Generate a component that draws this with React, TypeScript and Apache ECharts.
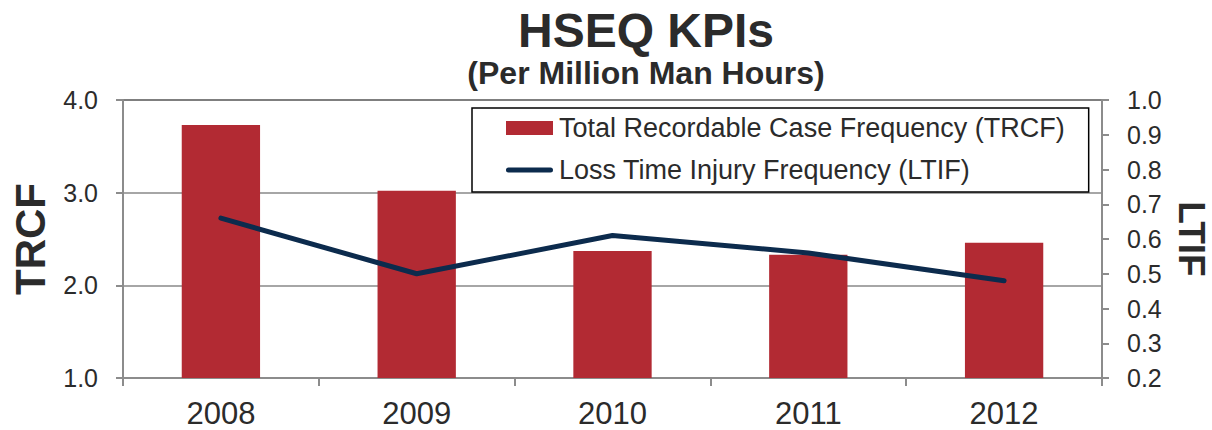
import React, { useEffect, useRef } from "react";
import * as echarts from "echarts";

const years = ["2008", "2009", "2010", "2011", "2012"];
const trcfValues = [3.73, 3.02, 2.37, 2.33, 2.46];
const ltifValues = [0.66, 0.5, 0.61, 0.56, 0.48];
const trcfName = "Total Recordable Case Frequency (TRCF)";
const ltifName = "Loss Time Injury Frequency (LTIF)";

const FONT = "'Liberation Sans', Arial, Helvetica, sans-serif";
const TEXT = "#2b2b2b";
const LINE_ICON =
  "path://M2.5,0 L44.5,0 A2.5,2.5 0 0 1 44.5,5 L2.5,5 A2.5,2.5 0 0 1 2.5,0 Z";

export default function App() {
  const ref = useRef<HTMLDivElement>(null);
  useEffect(() => {
    if (!ref.current) return;
    const chart = echarts.init(ref.current, undefined, { renderer: "svg" });
    chart.setOption({
      animation: false,
      backgroundColor: "#ffffff",
      textStyle: { fontFamily: FONT },
      title: {
        text: "HSEQ KPIs",
        subtext: "(Per Million Man Hours)",
        left: 641,
        textAlign: "center",
        top: 1,
        itemGap: 3,
        textStyle: { fontFamily: FONT, fontSize: 48, fontWeight: "bold", color: TEXT },
        subtextStyle: { fontFamily: FONT, fontSize: 32, fontWeight: "bold", color: TEXT },
      },
      legend: {
        orient: "vertical",
        left: 472,
        top: 108,
        padding: [5, 24, 7, 34],
        itemGap: 12,
        itemWidth: 47,
        itemHeight: 14,
        borderColor: "#000000",
        borderWidth: 1.5,
        backgroundColor: "#ffffff",
        textStyle: { fontFamily: FONT, fontSize: 27, color: TEXT, lineHeight: 30, padding: [0, 0, 0, 1] },
        data: [
          { name: trcfName, icon: "rect" },
          { name: ltifName, icon: LINE_ICON },
        ],
      },
      grid: {
        left: 123,
        right: 110,
        top: 100,
        bottom: 52,
        outerBoundsMode: "none",
        containLabel: false,
        show: true,
        borderColor: "#555555",
        borderWidth: 1.5,
        backgroundColor: "transparent",
      },
      xAxis: {
        type: "category",
        data: years,
        axisLine: { lineStyle: { color: "#8c8c8c", width: 2 } },
        axisTick: { show: true, length: 8, lineStyle: { color: "#8c8c8c", width: 2 } },
        axisLabel: { fontFamily: FONT, fontSize: 31, color: TEXT, margin: 20 },
      },
      yAxis: [
        {
          type: "value",
          min: 1,
          max: 4,
          interval: 1,
          name: "TRCF",
          nameLocation: "middle",
          nameRotate: 90,
          nameGap: 72,
          nameTextStyle: { fontFamily: FONT, fontSize: 42, fontWeight: "bold", color: TEXT },
          axisLine: { show: true, lineStyle: { color: "#8c8c8c", width: 2 } },
          axisTick: { show: true, length: 7, lineStyle: { color: "#8c8c8c", width: 2 } },
          axisLabel: {
            fontFamily: FONT,
            fontSize: 25,
            color: TEXT,
            margin: 25,
            formatter: (v: number) => v.toFixed(1),
          },
          splitLine: { show: true, showMaxLine: false, showMinLine: false, lineStyle: { color: "#a6a6a6", width: 2 } },
        },
        {
          type: "value",
          min: 0.2,
          max: 1.0,
          interval: 0.1,
          name: "LTIF",
          nameLocation: "middle",
          nameRotate: -90,
          nameGap: 69,
          nameTextStyle: { fontFamily: FONT, fontSize: 37, lineHeight: 30, fontWeight: "bold", color: TEXT },
          axisLine: { show: true, lineStyle: { color: "#8c8c8c", width: 2 } },
          axisTick: { show: true, length: 7, lineStyle: { color: "#8c8c8c", width: 2 } },
          axisLabel: {
            fontFamily: FONT,
            fontSize: 25,
            color: TEXT,
            margin: 25,
            formatter: (v: number) => v.toFixed(1),
          },
          splitLine: { show: false },
        },
      ],
      series: [
        {
          name: trcfName,
          type: "bar",
          yAxisIndex: 0,
          data: trcfValues,
          barWidth: "40%",
          itemStyle: { color: "#b22a33" },
        },
        {
          name: ltifName,
          type: "line",
          yAxisIndex: 1,
          data: ltifValues,
          symbol: "none",
          lineStyle: { color: "#0c2b4d", width: 5, cap: "round", join: "round" },
          itemStyle: { color: "#0c2b4d" },
        },
      ],
    });
    return () => chart.dispose();
  }, []);
  return (
    <div
      ref={ref}
      style={{ position: "fixed", left: 0, top: 0, width: 1212, height: 430 }}
    />
  );
}
